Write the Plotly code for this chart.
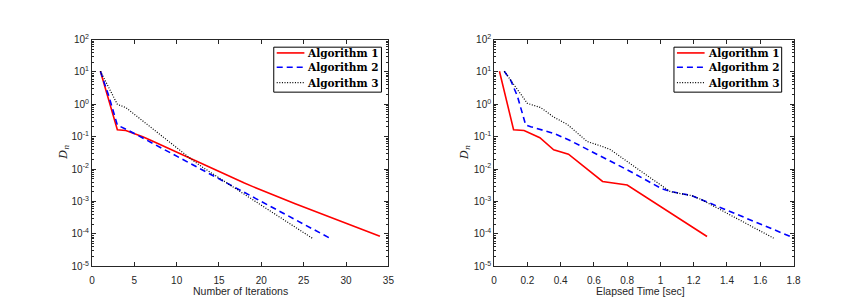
import plotly.graph_objects as go

# ---------------- data ----------------
names = ["Algorithm 1", "Algorithm 2", "Algorithm 3"]

# Left panel: D_n versus iteration number
iter_alg1 = list(range(1, 35))
dn_alg1_iter = [10.5, 1.32, 0.164, 0.155, 0.126, 0.100, 0.0767, 0.0582, 0.0437, 0.0327,
                0.0245, 0.0184, 0.0140, 0.0106, 0.00813, 0.00624, 0.00479, 0.00372, 0.00288, 0.00224,
                0.00176, 0.00138, 0.00108, 8.51e-4, 6.76e-4, 5.37e-4, 4.27e-4, 3.39e-4, 2.69e-4, 2.16e-4,
                1.70e-4, 1.35e-4, 1.07e-4, 8.51e-5]

iter_alg2 = list(range(1, 29))
dn_alg2_iter = [10.5, 1.78, 0.229, 0.174, 0.126, 0.0912, 0.0661, 0.0479, 0.0347, 0.0251,
                0.0182, 0.0132, 0.00955, 0.00692, 0.00501, 0.00363, 0.00263, 0.00191, 0.00138, 0.00100,
                7.24e-4, 5.25e-4, 3.80e-4, 2.75e-4, 2.00e-4, 1.45e-4, 1.05e-4, 7.59e-5]

iter_alg3 = list(range(1, 27))
dn_alg3_iter = [10.5, 3.24, 1.00, 0.794, 0.490, 0.302, 0.186, 0.115, 0.0724, 0.0447,
                0.0282, 0.0178, 0.0117, 0.00794, 0.00537, 0.00363, 0.00245, 0.00166, 0.00112, 7.59e-4,
                5.13e-4, 3.47e-4, 2.34e-4, 1.58e-4, 1.07e-4, 7.41e-5]

# Right panel: D_n versus elapsed time [sec]
time_alg1 = [0.032, 0.117, 0.18, 0.275, 0.358, 0.447, 0.652, 0.80, 1.28]
dn_alg1_time = [10.5, 0.164, 0.155, 0.0933, 0.0394, 0.0288, 0.00417, 0.00324, 8.32e-5]

time_alg2 = [0.061, 0.10, 0.14, 0.17, 0.19, 0.22, 0.36, 0.45, 0.57, 0.64, 0.80, 1.01, 1.06, 1.19, 1.25, 1.80]
dn_alg2_time = [10.5, 5.50, 1.78, 0.575, 0.229, 0.204, 0.126, 0.0794, 0.0398, 0.0251,
                0.00955, 0.00245, 0.00204, 0.00151, 0.00112, 7.59e-5]

time_alg3 = [0.061, 0.20, 0.28, 0.36, 0.44, 0.56, 0.65, 0.70, 0.87, 1.06, 1.19, 1.25, 1.68]
dn_alg3_time = [10.5, 1.07, 0.794, 0.398, 0.240, 0.0708, 0.0501, 0.0398, 0.00955, 0.00200,
                0.00151, 0.00112, 7.41e-5]

y_tick_vals = [1e-5, 1e-4, 1e-3, 1e-2, 1e-1, 1e0, 1e1, 1e2]
y_tick_text = ["10<sup>-5</sup>", "10<sup>-4</sup>", "10<sup>-3</sup>", "10<sup>-2</sup>",
               "10<sup>-1</sup>", "10<sup>0</sup>", "10<sup>1</sup>", "10<sup>2</sup>"]
x1_tick_vals = [0, 5, 10, 15, 20, 25, 30, 35]
x2_tick_vals = [0, 0.2, 0.4, 0.6, 0.8, 1.0, 1.2, 1.4, 1.6, 1.8]
x2_tick_text = ["0", "0.2", "0.4", "0.6", "0.8", "1", "1.2", "1.4", "1.6", "1.8"]

# ---------------- styling ----------------
W, H = 845, 301
colors = ["#ff0000", "#0000ff", "#000000"]
dashes = ["solid", "6px,4px", "1px,1.6px"]
widths = [1.6, 1.6, 1.2]
axis_col = "#262626"

fig = go.Figure()

left_x = [iter_alg1, iter_alg2, iter_alg3]
left_y = [dn_alg1_iter, dn_alg2_iter, dn_alg3_iter]
right_x = [time_alg1, time_alg2, time_alg3]
right_y = [dn_alg1_time, dn_alg2_time, dn_alg3_time]

for i in range(3):
    fig.add_trace(go.Scatter(x=left_x[i], y=left_y[i], mode="lines", name=names[i],
                             line=dict(color=colors[i], width=widths[i], dash=dashes[i]),
                             xaxis="x", yaxis="y", showlegend=False))
for i in range(3):
    fig.add_trace(go.Scatter(x=right_x[i], y=right_y[i], mode="lines", name=names[i],
                             line=dict(color=colors[i], width=widths[i], dash=dashes[i]),
                             xaxis="x2", yaxis="y2", showlegend=False))

def px_x(p):
    return p / W

def px_y(p):
    return (H - p) / H

top_px, bot_px = 34, 271
ydom = [px_y(bot_px), px_y(top_px)]

tickfont = dict(family="Liberation Sans", size=10, color=axis_col)

common_x = dict(showgrid=False, zeroline=False, showline=True, linecolor=axis_col, linewidth=1,
                mirror="ticks", ticks="inside", ticklen=4, tickcolor=axis_col, tickfont=tickfont,
                ticklabelstandoff=5)
common_y = dict(type="log", range=[-5, 2], showgrid=False, zeroline=False, showline=True,
                linecolor=axis_col, linewidth=1, mirror="ticks", ticks="inside", ticklen=4,
                tickcolor=axis_col, tickfont=tickfont, tickvals=y_tick_vals, ticktext=y_tick_text,
                minor=dict(ticks="inside", ticklen=2, tickcolor=axis_col, dtick="D1", showgrid=False))

# ---------------- legend boxes (drawn as layout shapes + text) ----------------
shapes = []
annotations = []
legend_boxes = [(274, 383), (679, 788)]  # left / right box edges in px
legend_rows = [48, 63, 79]
for (bx0, bx1) in legend_boxes:
    shapes.append(dict(type="rect", xref="paper", yref="paper",
                       x0=px_x(bx0), x1=px_x(bx1), y0=px_y(89), y1=px_y(42),
                       line=dict(color="black", width=1), fillcolor="white", layer="above"))
    for i in range(3):
        ry = legend_rows[i]
        shapes.append(dict(type="line", xref="paper", yref="paper",
                           x0=px_x(bx0 + 3), x1=px_x(bx0 + 31), y0=px_y(ry), y1=px_y(ry),
                           line=dict(color=colors[i], width=widths[i], dash=dashes[i]), layer="above"))
        annotations.append(dict(text=names[i], x=px_x(bx0 + 32), y=px_y(ry), xref="paper", yref="paper",
                                showarrow=False, xanchor="left", yanchor="middle",
                                font=dict(family="DejaVu Serif", size=10.5, color="black", weight="bold")))

annotations += [
    dict(text="Number of Iterations", x=px_x(240), y=px_y(297), xref="paper", yref="paper",
         showarrow=False, xanchor="center", yanchor="middle",
         font=dict(family="Liberation Sans", size=10.5, color=axis_col)),
    dict(text="Elapsed Time [sec]", x=px_x(645), y=px_y(297), xref="paper", yref="paper",
         showarrow=False, xanchor="center", yanchor="middle",
         font=dict(family="Liberation Sans", size=10.5, color=axis_col)),
    dict(text="<i>D</i><sub><i>n</i></sub>", x=px_x(62), y=px_y(152), xref="paper", yref="paper",
         showarrow=False, xanchor="center", yanchor="middle", textangle=-90,
         font=dict(family="DejaVu Serif", size=11, color=axis_col)),
    dict(text="<i>D</i><sub><i>n</i></sub>", x=px_x(468), y=px_y(152), xref="paper", yref="paper",
         showarrow=False, xanchor="center", yanchor="middle", textangle=-90,
         font=dict(family="DejaVu Serif", size=11, color=axis_col)),
]

fig.update_layout(
    width=W, height=H, autosize=False,
    margin=dict(l=0, r=0, t=0, b=0, pad=0),
    paper_bgcolor="white", plot_bgcolor="white",
    showlegend=False,
    xaxis=dict(domain=[px_x(90), px_x(390)], range=[0, 35], tickvals=x1_tick_vals, anchor="y", **common_x),
    yaxis=dict(domain=ydom, anchor="x", **common_y),
    xaxis2=dict(domain=[px_x(497), px_x(800)], range=[0, 1.8], tickvals=x2_tick_vals,
                ticktext=x2_tick_text, anchor="y2", **common_x),
    yaxis2=dict(domain=ydom, anchor="x2", **common_y),
    shapes=shapes,
    annotations=annotations,
)

fig.write_html("out.html", config={"displayModeBar": False},
               post_script="document.body.style.margin='0';document.body.style.overflow='hidden';")
